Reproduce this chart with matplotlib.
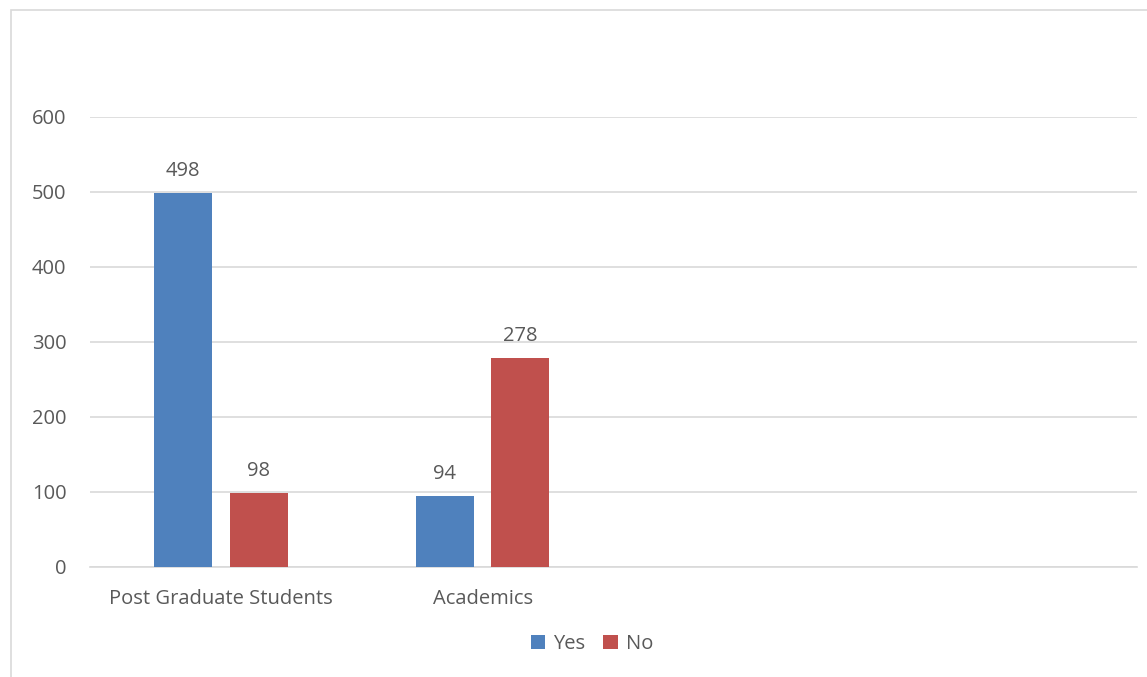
import matplotlib.pyplot as plt
import numpy as np
from matplotlib.patches import Rectangle

plt.rcParams['font.family'] = ['Open Sans', 'DejaVu Sans']

categories = ['Post Graduate Students', 'Academics', '', '']
yes_values = [498, 94]
no_values = [98, 278]

text_color = '#595959'
blue = '#4f81bd'
red = '#c0504d'
fs = 14.5

fig = plt.figure(figsize=(11.47, 6.77), dpi=100)
ax = fig.add_axes([0.0785, 0.1625, 0.9128, 0.6647])

# chart frame (light grey border)
fig.patches.append(Rectangle((11 / 1147, -0.05), 1.2, (1 - 10 / 677) + 0.05,
                             transform=fig.transFigure, fill=False,
                             edgecolor='#d9d9d9', linewidth=1.2))

x = np.arange(len(categories))
w = 0.222
off = 0.144
b1 = ax.bar(x[:len(yes_values)] - off, yes_values, w, color=blue, label='Yes', zorder=3)
b2 = ax.bar(x[:len(no_values)] + off, no_values, w, color=red, label='No', zorder=3)

for bars in (b1, b2):
    for bar in bars:
        h = bar.get_height()
        ax.annotate(f'{h:g}', (bar.get_x() + bar.get_width() / 2, h),
                    xytext=(0, 9), textcoords='offset points',
                    ha='center', va='bottom', fontsize=fs, color=text_color)

ax.set_xlim(-0.5, len(categories) - 0.5)
ax.set_ylim(0, 600)
ax.set_yticks(range(0, 601, 100))
ax.set_xticks(x)
ax.set_xticklabels(categories)
ax.tick_params(axis='both', length=0, labelsize=fs, labelcolor=text_color)
ax.tick_params(axis='x', pad=16)
ax.tick_params(axis='y', pad=17)
ax.grid(axis='y', color='#d9d9d9', linewidth=1.2, zorder=0)
for s in ('top', 'right', 'left'):
    ax.spines[s].set_visible(False)
ax.spines['bottom'].set_color('#d9d9d9')
ax.spines['bottom'].set_linewidth(1.2)

leg = fig.legend(handles=[b1, b2], labels=['Yes', 'No'], loc='center',
                 bbox_to_anchor=(592 / 1147, 1 - 644 / 677), ncol=2,
                 frameon=False, fontsize=fs, handlelength=0.7, handleheight=0.7,
                 handletextpad=0.4, columnspacing=0.9)
for t in leg.get_texts():
    t.set_color(text_color)

fig.savefig('out.png', dpi=100)
